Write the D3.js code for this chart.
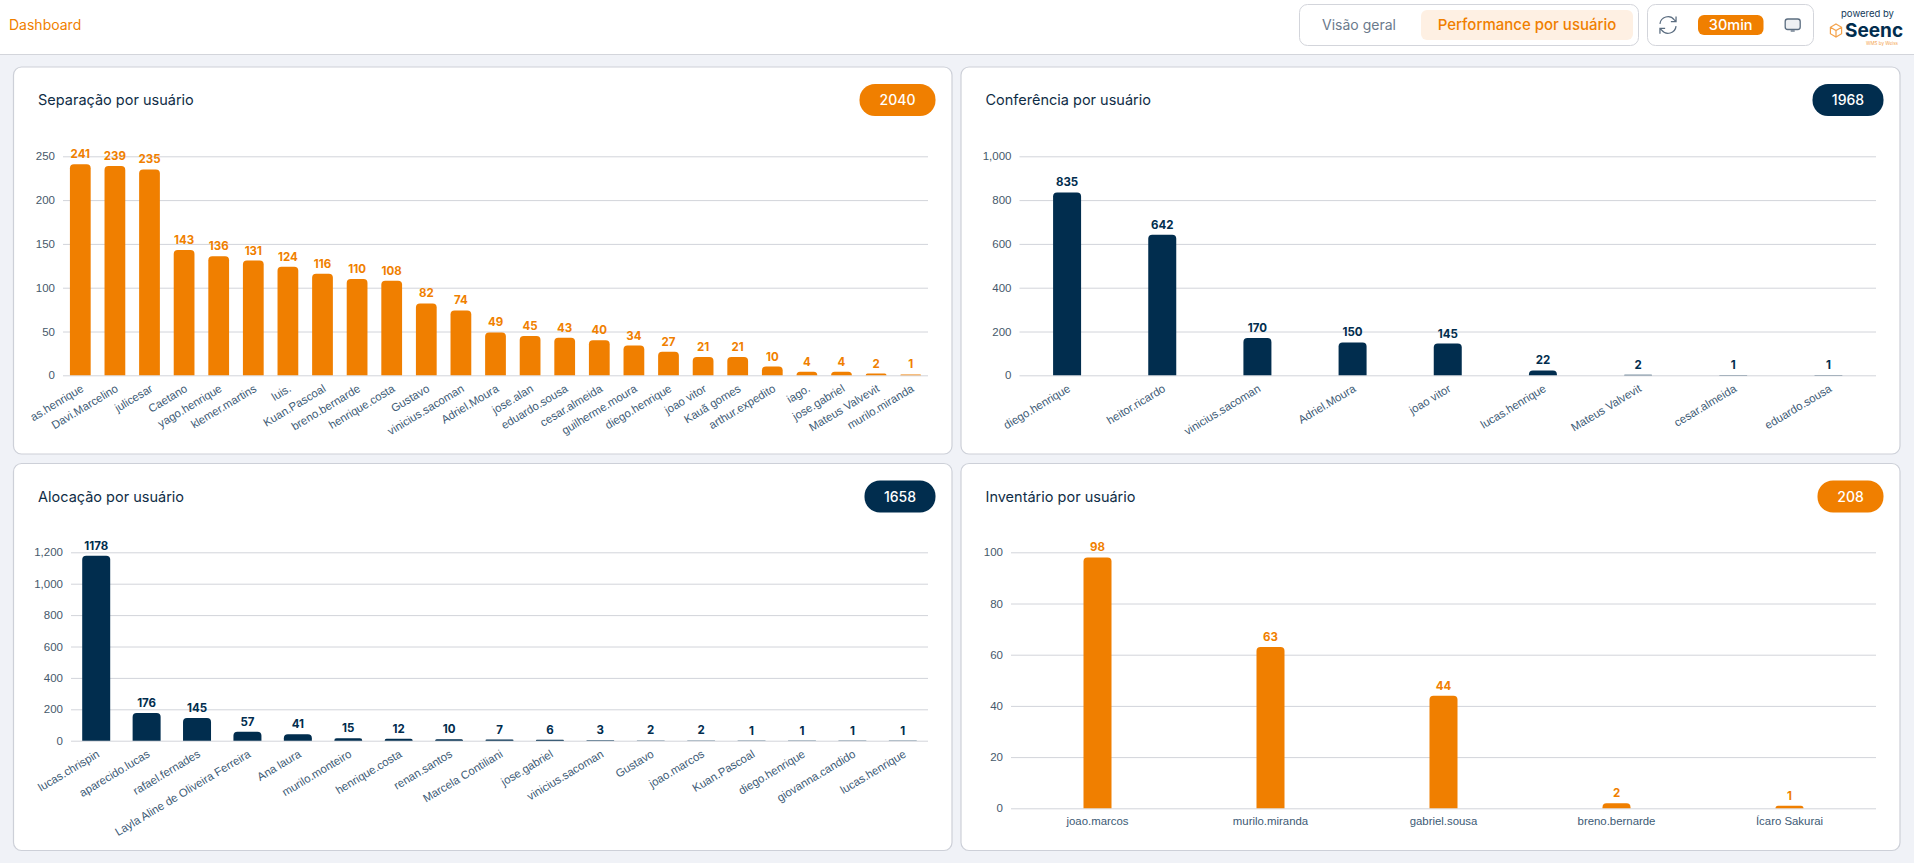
<!DOCTYPE html>
<html>
<head>
<meta charset="utf-8">
<title>Dashboard</title>
<script src="https://cdn.jsdelivr.net/npm/d3@7"></script>
<style>
    html, body { margin: 0; padding: 0; background: #f0f2f7; overflow: hidden; }
    svg { display: block; font-family: Inter, "Open Sans", sans-serif; }
    .axis-y text { font-size: 11.5px; fill: #46596b; }
    .axis-x text { font-size: 11.4px; fill: #3c5a75; }
    .axis-x path, .axis-x line, .axis-y path { display: none; }
    .axis-y line { stroke: #d2d4da; }
    .base { stroke: #c9ccd3; }
</style>
</head>
<body>
<div id="page"></div>
<script>
// values
var sepUsers = ["as.henrique", "Davi.Marcelino", "julicesar", "Caetano", "yago.henrique", "klemer.martins", "luis.", "Kuan.Pascoal", "breno.bernarde", "henrique.costa", "Gustavo", "vinicius.sacoman", "Adriel.Moura", "jose.alan", "eduardo.sousa", "cesar.almeida", "guilherme.moura", "diego.henrique", "joao vitor", "Kauã gomes", "arthur.expedito", "iago.", "jose.gabriel", "Mateus Valvevit", "murilo.miranda"];
var sepValues = [241, 239, 235, 143, 136, 131, 124, 116, 110, 108, 82, 74, 49, 45, 43, 40, 34, 27, 21, 21, 10, 4, 4, 2, 1];
var sepTicks = [0, 50, 100, 150, 200, 250];

var confUsers = ["diego.henrique", "heitor.ricardo", "vinicius.sacoman", "Adriel.Moura", "joao vitor", "lucas.henrique", "Mateus Valvevit", "cesar.almeida", "eduardo.sousa"];
var confValues = [835, 642, 170, 150, 145, 22, 2, 1, 1];
var confTicks = [0, 200, 400, 600, 800, 1000];

var alocUsers = ["lucas.chrispin", "aparecido.lucas", "rafael.fernades", "Layla Aline de Oliveira Ferreira", "Ana laura", "murilo.monteiro", "henrique.costa", "renan.santos", "Marcela Contiliani", "jose.gabriel", "vinicius.sacoman", "Gustavo", "joao.marcos", "Kuan.Pascoal", "diego.henrique", "giovanna.candido", "lucas.henrique"];
var alocValues = [1178, 176, 145, 57, 41, 15, 12, 10, 7, 6, 3, 2, 2, 1, 1, 1, 1];
var alocTicks = [0, 200, 400, 600, 800, 1000, 1200];

var invUsers = ["joao.marcos", "murilo.miranda", "gabriel.sousa", "breno.bernarde", "Ícaro Sakurai"];
var invValues = [98, 63, 44, 2, 1];
var invTicks = [0, 20, 40, 60, 80, 100];

var ORANGE = "#f07f00";
var NAVY = "#012d4e";

var svg = d3.select("#page").append("svg")
    .attr("width", 1914)
    .attr("height", 863);

drawHeader();

drawPanel({ box: [13.5, 67, 938.5, 387], title: "Separação por usuário", total: 2040, pillW: 76, color: ORANGE,
    users: sepUsers, values: sepValues, ticks: sepTicks, left: 63, right: 928, top: 156.3, bottom: 375.3, rotate: true });
drawPanel({ box: [961, 67, 939, 387], title: "Conferência por usuário", total: 1968, pillW: 71, color: NAVY,
    users: confUsers, values: confValues, ticks: confTicks, left: 1019.5, right: 1876, top: 156.3, bottom: 375.3, rotate: true });
drawPanel({ box: [13.5, 463.5, 938.5, 387], title: "Alocação por usuário", total: 1658, pillW: 71, color: NAVY,
    users: alocUsers, values: alocValues, ticks: alocTicks, left: 71, right: 928, top: 552.3, bottom: 740.7, rotate: true });
drawPanel({ box: [961, 463.5, 939, 387], title: "Inventário por usuário", total: 208, pillW: 66, color: ORANGE,
    users: invUsers, values: invValues, ticks: invTicks, left: 1011, right: 1876, top: 552.3, bottom: 808.3, rotate: false });

function topRounded(x, y, w, h, r) {
    r = Math.min(r, h, w / 2);
    var p = d3.path();
    p.moveTo(x, y + h);
    p.lineTo(x, y + r);
    p.arcTo(x, y, x + r, y, r);
    p.lineTo(x + w - r, y);
    p.arcTo(x + w, y, x + w, y + r, r);
    p.lineTo(x + w, y + h);
    p.closePath();
    return p.toString();
}

function drawPanel(cfg) {
    var g = svg.append("g");
    var bx = cfg.box[0], by = cfg.box[1], bw = cfg.box[2], bh = cfg.box[3];

    g.append("rect")
        .attr("x", bx).attr("y", by)
        .attr("width", bw).attr("height", bh)
        .attr("rx", 8)
        .attr("fill", "#fff")
        .attr("stroke", "#cdd0d8")
        .attr("stroke-width", 1.2);

    g.append("text")
        .attr("x", bx + 24.5)
        .attr("y", by + 33)
        .attr("dy", "0.35em")
        .attr("font-size", 14.5)
        .attr("font-weight", 400)
        .attr("fill", "#0f2d46")
        .text(cfg.title);

    var pillR = bx + bw - 16.5;
    g.append("rect")
        .attr("x", pillR - cfg.pillW).attr("y", by + 17)
        .attr("width", cfg.pillW).attr("height", 32)
        .attr("rx", 15.5)
        .attr("fill", cfg.color);
    g.append("text")
        .attr("x", pillR - cfg.pillW / 2)
        .attr("y", by + 33)
        .attr("dy", "0.36em")
        .attr("text-anchor", "middle")
        .attr("font-size", 14)
        .attr("font-weight", 500)
        .attr("fill", "#fff")
        .text(cfg.total);

    var y = d3.scaleLinear()
        .domain([0, d3.max(cfg.ticks)])
        .range([cfg.bottom, cfg.top]);
    var x = d3.scaleBand()
        .domain(cfg.users)
        .range([cfg.left, cfg.right]);
    var barW = Math.min(x.bandwidth() * 0.6, 28);

    var yAxis = d3.axisLeft(y)
        .tickValues(cfg.ticks)
        .tickFormat(d3.format(","))
        .tickSize(-(cfg.right - cfg.left))
        .tickPadding(8);
    var ag = g.append("g")
        .attr("class", "axis-y")
        .attr("transform", "translate(" + cfg.left + ",0)")
        .call(yAxis);
    ag.selectAll("text").style("font-family", "inherit");
    ag.selectAll("line").filter(function(d){ return d == 0; }).attr("class", "base");

    var rows = cfg.users.map(function(u, i){ return { user: u, value: cfg.values[i] }; });

    g.selectAll(".bar")
        .data(rows)
        .enter().append("path")
        .attr("class", "bar")
        .attr("fill", cfg.color)
        .attr("d", function(d){
            var cx = x(d.user) + x.bandwidth() / 2;
            return topRounded(cx - barW / 2, y(d.value), barW, y(0) - y(d.value), 4);
        });

    g.selectAll(".val")
        .data(rows)
        .enter().append("text")
        .attr("class", "val")
        .attr("x", function(d){ return x(d.user) + x.bandwidth() / 2; })
        .attr("y", function(d){ return y(d.value) - 6; })
        .attr("text-anchor", "middle")
        .attr("font-size", 11.5)
        .attr("font-weight", 700)
        .attr("fill", cfg.color)
        .text(function(d){ return d.value; });

    var xAxis = d3.axisBottom(x).tickSize(0).tickPadding(0);
    var xg = g.append("g")
        .attr("class", "axis-x")
        .attr("transform", "translate(0," + cfg.bottom + ")")
        .call(xAxis);
    xg.selectAll("text").style("font-family", "inherit");
    if (cfg.rotate) {
        xg.selectAll("text")
            .attr("y", 0).attr("dy", "0.35em")
            .attr("text-anchor", "end")
            .attr("transform", "translate(2,12) rotate(-31)");
    } else {
        xg.selectAll("text")
            .attr("y", 13).attr("dy", "0.35em");
    }
}

function drawHeader() {
    var h = svg.append("g");
    h.append("rect").attr("width", 1914).attr("height", 54).attr("fill", "#fff");
    h.append("line").attr("x1", 0).attr("x2", 1914).attr("y1", 54.5).attr("y2", 54.5)
        .attr("stroke", "#d3d5db");

    h.append("text").attr("x", 9).attr("y", 25).attr("dy", "0.35em")
        .attr("font-size", 14).attr("fill", ORANGE).text("Dashboard");

    // tabs
    h.append("rect").attr("x", 1299.5).attr("y", 4.5).attr("width", 339).attr("height", 41).attr("rx", 8)
        .attr("fill", "#fff").attr("stroke", "#d3d5db");
    h.append("text").attr("x", 1359).attr("y", 25).attr("dy", "0.35em").attr("text-anchor", "middle")
        .attr("font-size", 14).attr("fill", "#6b7a8c").text("Visão geral");
    h.append("rect").attr("x", 1421).attr("y", 10).attr("width", 212).attr("height", 30).attr("rx", 6)
        .attr("fill", "#fef0e3");
    h.append("text").attr("x", 1527).attr("y", 25).attr("dy", "0.35em").attr("text-anchor", "middle")
        .attr("font-size", 15).attr("font-weight", 500).attr("fill", ORANGE).text("Performance por usuário");

    // refresh box
    h.append("rect").attr("x", 1647.5).attr("y", 4.5).attr("width", 166).attr("height", 41).attr("rx", 8)
        .attr("fill", "#fff").attr("stroke", "#d3d5db");
    var r = h.append("g").attr("transform", "translate(1668,25) scale(1.15)")
        .attr("fill", "none").attr("stroke", "#5b6d80").attr("stroke-width", 1.1);
    r.append("path").attr("d", "M-7 -1 A7 7 0 0 1 5.5 -4.5 L7 -3 M7 -7.5 L7 -3 L2.5 -3");
    r.append("path").attr("d", "M7 1 A7 7 0 0 1 -5.5 4.5 L-7 3 M-7 7.5 L-7 3 L-2.5 3");

    h.append("rect").attr("x", 1698).attr("y", 15).attr("width", 65.5).attr("height", 20).attr("rx", 6)
        .attr("fill", ORANGE);
    h.append("text").attr("x", 1730.7).attr("y", 25).attr("dy", "0.36em").attr("text-anchor", "middle")
        .attr("font-size", 14.5).attr("font-weight", 500).attr("fill", "#fff").text("30min");

    var m = h.append("g").attr("transform", "translate(1792.7,25)")
        .attr("fill", "none").attr("stroke", "#5b6d80").attr("stroke-width", 1.3);
    m.append("rect").attr("x", -7.5).attr("y", -6).attr("width", 15).attr("height", 10.5).attr("rx", 2.5)
        .attr("fill", "#eef0f3");
    m.append("path").attr("d", "M-2 6 L2 6");

    // logo
    h.append("text").attr("x", 1867.5).attr("y", 14).attr("dy", "0.35em").attr("text-anchor", "middle")
        .attr("font-size", 9.5).attr("fill", "#123a5a").text("powered by");
    var l = h.append("g").attr("transform", "translate(1836,30.5)")
        .attr("fill", "none").attr("stroke", "#f4a24a").attr("stroke-width", 1.2);
    l.append("path").attr("d", "M0 -6.5 L5.6 -3.2 L5.6 3.2 L0 6.5 L-5.6 3.2 L-5.6 -3.2 Z M-5.6 -3.2 L0 0 L5.6 -3.2 M0 0 L0 6.5");
    h.append("text").attr("x", 1845).attr("y", 30).attr("dy", "0.36em")
        .attr("font-size", 19).attr("font-weight", 700).attr("fill", NAVY).text("Seenc");
    h.append("text").attr("x", 1882).attr("y", 43).attr("dy", "0.35em").attr("text-anchor", "middle")
        .attr("font-size", 4.5).attr("fill", "#f4a24a").text("WMS by Weiss");
}
</script>
</body>
</html>
